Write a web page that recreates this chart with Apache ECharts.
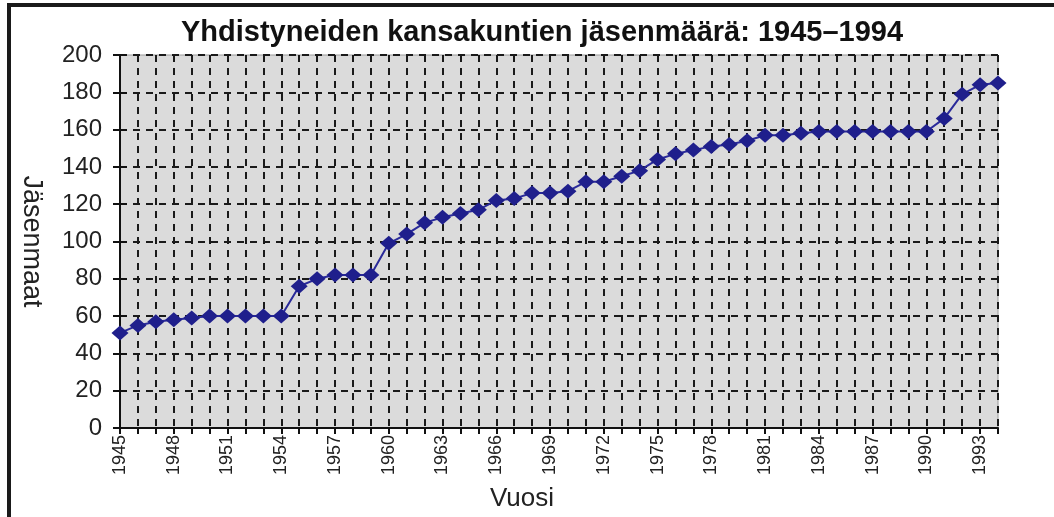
<!DOCTYPE html>
<html style="height: 100%">
<head>
    <meta charset="UTF-8">
    <title>YK:n jäsenmäärä 1945–1994</title>
    <script src="https://cdn.jsdelivr.net/npm/echarts@6/dist/echarts.min.js"></script>
    <style>
        body {
            margin: 0;
            background: #ffffff;
            font-family: "Liberation Sans", Arial, sans-serif;
        }
        #frame {
            position: absolute;
            left: 7px;
            top: 3px;
            width: 1047px;
            height: 514px;
            border-left: 4px solid #1a1a1a;
            border-top: 4px solid #1a1a1a;
            box-sizing: border-box;
        }
        #chart {
            position: absolute;
            left: 0;
            top: 0;
            width: 1054px;
            height: 517px;
        }
    </style>
</head>
<body>
    <div id="frame"></div>
    <div id="chart"></div>

    <script>
        // vuodet
        var years = [];
        for (var y = 1945; y <= 1994; y++) {
            years.push(String(y));
        }

        // jäsenmaiden määrä vuosittain (luettu kuvasta)
        var members = [
            51, 55, 57, 58, 59, 60, 60, 60, 60, 60,
            76, 80, 82, 82, 82, 99, 104, 110, 113, 115,
            117, 122, 123, 126, 126, 127, 132, 132, 135, 138,
            144, 147, 149, 151, 152, 154, 157, 157, 158, 159,
            159, 159, 159, 159, 159, 159, 166, 179, 184, 185
        ];

        var titleText = 'Yhdistyneiden kansakuntien jäsenmäärä: 1945–1994';
        var xName = 'Vuosi';
        var yName = 'Jäsenmaat';

        var chart = echarts.init(document.getElementById('chart'));

        var option = {
            animation: false,
            title: {
                text: titleText,
                left: 537,
                textAlign: 'center',
                top: 13,
                textStyle: {
                    fontFamily: 'Liberation Sans',
                    fontWeight: 'bold',
                    fontSize: 29,
                    color: '#111'
                }
            },
            grid: {
                left: 120,
                right: 56,
                top: 55,
                bottom: 89,
                show: true,
                backgroundColor: '#dbdbdb',
                borderColor: '#9a9a9a',
                borderWidth: 1
            },
            xAxis: {
                type: 'category',
                data: years,
                boundaryGap: false,
                name: xName,
                nameLocation: 'middle',
                nameGap: 58,
                nameTextStyle: {
                    fontFamily: 'Liberation Sans',
                    fontSize: 26,
                    color: '#222',
                    padding: [0, 74, 0, 0]
                },
                axisLine: { lineStyle: { color: '#111', width: 2 } },
                axisTick: {
                    interval: 0,
                    length: 6,
                    lineStyle: { color: '#111', width: 2 }
                },
                axisLabel: {
                    interval: 2,
                    rotate: 90,
                    fontFamily: 'Liberation Sans',
                    fontSize: 18,
                    color: '#222',
                    margin: 7
                },
                splitLine: {
                    show: true,
                    interval: 0,
                    lineStyle: { color: '#1a1a1a', width: 2, type: [7, 6] }
                }
            },
            yAxis: [
                {
                    type: 'value',
                    min: 0,
                    max: 200,
                    interval: 20,
                    name: yName,
                    nameLocation: 'middle',
                    nameGap: 75,
                    nameRotate: -90,
                    nameTextStyle: {
                        fontFamily: 'Liberation Sans',
                        fontSize: 27,
                        color: '#222'
                    },
                    axisLine: { show: true, lineStyle: { color: '#111', width: 2 } },
                    axisTick: {
                        show: true,
                        length: 7,
                        lineStyle: { color: '#111', width: 2 }
                    },
                    axisLabel: {
                        fontFamily: 'Liberation Sans',
                        fontSize: 24,
                        color: '#222',
                        margin: 18
                    },
                    splitLine: {
                        show: true,
                        lineStyle: { color: '#1a1a1a', width: 2, type: [7, 6] }
                    }
                },
                {
                    type: 'value',
                    min: 0,
                    max: 200,
                    interval: 20,
                    position: 'left',
                    axisLine: { show: false },
                    axisTick: {
                        show: true,
                        inside: true,
                        length: 7,
                        lineStyle: { color: '#111', width: 2 }
                    },
                    axisLabel: { show: false },
                    splitLine: { show: false }
                }
            ],
            series: [
                {
                    name: yName,
                    type: 'line',
                    data: members,
                    showAllSymbol: true,
                    symbol: 'diamond',
                    symbolSize: [17, 15],
                    itemStyle: { color: '#1f1f8c' },
                    lineStyle: { color: '#2a2a9a', width: 2 }
                }
            ]
        };

        chart.setOption(option);
    </script>
</body>
</html>
